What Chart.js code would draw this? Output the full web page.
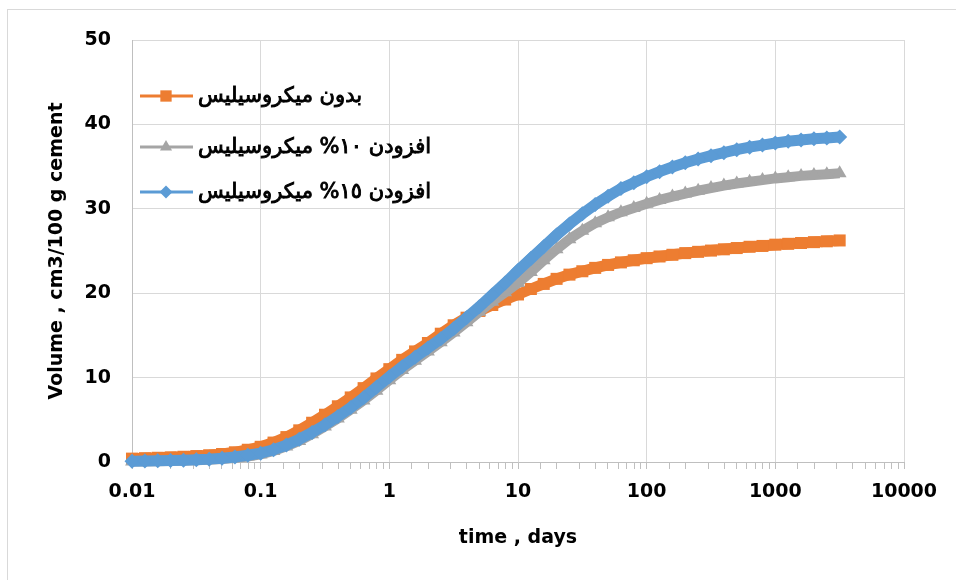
<!DOCTYPE html>
<html>
<head>
<meta charset="utf-8">
<script src="https://cdn.jsdelivr.net/npm/chart.js@4"></script>
<style>
  html, body { margin: 0; padding: 0; background: #fff; }
  #wrap { position: relative; width: 956px; height: 580px; }
  .legend-text {
    position: absolute;
    left: 198px;
    width: max-content;
    direction: rtl;
    font-family: 'DejaVu Sans', sans-serif;
    font-weight: normal;
    font-size: 21px;
    line-height: 24px;
    color: #000;
    -webkit-text-stroke: 0.9px #000;
    white-space: nowrap;
  }
</style>
</head>
<body>
<div id="wrap">
  <canvas id="volumeChart" width="956" height="580"></canvas>
</div>
<script>
// time axis (days), one reading every 0.1 decade
var days = [0.01, 0.01259, 0.01585, 0.01995, 0.02512, 0.03162, 0.03981, 0.05012, 0.0631, 0.07943,
  0.1, 0.1259, 0.1585, 0.1995, 0.2512, 0.3162, 0.3981, 0.5012, 0.631, 0.7943,
  1, 1.259, 1.585, 1.995, 2.512, 3.162, 3.981, 5.012, 6.31, 7.943,
  10, 12.59, 15.85, 19.95, 25.12, 31.62, 39.81, 50.12, 63.1, 79.43,
  100, 125.9, 158.5, 199.5, 251.2, 316.2, 398.1, 501.2, 631, 794.3,
  1000, 1259, 1585, 1995, 2512, 3162];

var noSilica = [0.40, 0.45, 0.50, 0.55, 0.62, 0.70, 0.80, 0.95, 1.15, 1.45,
  1.80, 2.30, 2.95, 3.75, 4.65, 5.60, 6.60, 7.65, 8.75, 9.90,
  11.0, 12.1, 13.1, 14.1, 15.2, 16.2, 17.1, 17.9, 18.6, 19.25,
  19.85, 20.5, 21.1, 21.7, 22.2, 22.6, 23.0, 23.35, 23.65, 23.9,
  24.15, 24.35, 24.55, 24.75, 24.9, 25.05, 25.2, 25.35, 25.5, 25.6,
  25.75, 25.85, 25.95, 26.05, 26.15, 26.25];

var silica10 = [0.05, 0.07, 0.09, 0.12, 0.15, 0.20, 0.26, 0.35, 0.48, 0.66,
  0.90, 1.30, 1.85, 2.50, 3.30, 4.20, 5.15, 6.20, 7.30, 8.45,
  9.70, 10.9, 12.0, 13.1, 14.2, 15.35, 16.55, 17.8, 19.0, 20.1,
  21.2, 22.5, 23.9, 25.2, 26.4, 27.4, 28.3, 29.0, 29.6, 30.1,
  30.6, 31.05, 31.45, 31.8, 32.15, 32.45, 32.75, 33.0, 33.2, 33.4,
  33.6, 33.75, 33.9, 34.0, 34.1, 34.2];

var silica15 = [0.10, 0.12, 0.15, 0.18, 0.22, 0.27, 0.34, 0.45, 0.60, 0.80,
  1.05, 1.45, 2.00, 2.70, 3.50, 4.40, 5.40, 6.45, 7.60, 8.85,
  10.1, 11.3, 12.4, 13.5, 14.6, 15.8, 17.1, 18.4, 19.8, 21.2,
  22.7, 24.1, 25.5, 26.9, 28.2, 29.4, 30.5, 31.5, 32.4, 33.1,
  33.8, 34.4, 34.95, 35.45, 35.9, 36.3, 36.65, 37.0, 37.3, 37.55,
  37.8, 38.0, 38.15, 38.3, 38.4, 38.5];

var seriesNames = ["بدون میکروسیلیس", "افزودن ١٠% میکروسیلیس", "افزودن ١٥% میکروسیلیس"];
var xTickLabels = ["0.01", "0.1", "1", "10", "100", "1000", "10000"];

var boldFont = "'DejaVu Sans', sans-serif";
var legendRows = [96, 147, 192];

function toPoints(values) {
  return values.map((v, i) => ({ x: days[i], y: v }));
}

function isDecade(v) {
  var e = Math.log10(v);
  return Math.abs(e - Math.round(e)) < 1e-6;
}

function drawMarker(ctx, style, x, y, r) {
  ctx.beginPath();
  if (style === "rect") {
    var s = r * Math.SQRT1_2;
    ctx.rect(x - s, y - s, 2 * s, 2 * s);
  } else if (style === "triangle") {
    ctx.moveTo(x, y - r);
    ctx.lineTo(x + r * 0.866, y + r * 0.5);
    ctx.lineTo(x - r * 0.866, y + r * 0.5);
    ctx.closePath();
  } else {
    ctx.moveTo(x, y - r);
    ctx.lineTo(x + r, y);
    ctx.lineTo(x, y + r);
    ctx.lineTo(x - r, y);
    ctx.closePath();
  }
  ctx.fill();
}

var frame = {
  id: "frame",
  beforeDraw(chart) {
    var ctx = chart.ctx;
    ctx.save();
    ctx.fillStyle = "#fff";
    ctx.fillRect(0, 0, chart.width, chart.height);
    ctx.strokeStyle = "#d9d9d9";
    ctx.lineWidth = 1;
    ctx.strokeRect(7.5, 9.5, 960, 600);
    ctx.restore();
  },
};

// legend symbols (line + marker) drawn on the canvas, labels as html text
var lineLegend = {
  id: "lineLegend",
  afterDatasetsDraw(chart) {
    var ctx = chart.ctx;
    chart.data.datasets.forEach((ds, i) => {
      var y = legendRows[i];
      ctx.save();
      ctx.strokeStyle = ds.borderColor;
      ctx.fillStyle = ds.borderColor;
      ctx.lineWidth = 3;
      ctx.beginPath();
      ctx.moveTo(140, y);
      ctx.lineTo(193, y);
      ctx.stroke();
      drawMarker(ctx, ds.pointStyle, 166, y, ds.legendRadius);
      ctx.restore();
    });
  },
};

var ctx = document.getElementById("volumeChart").getContext("2d");

var volumeChart = new Chart(ctx, {
  type: "line",
  data: {
    datasets: [
      {
        label: seriesNames[0],
        data: toPoints(noSilica),
        borderColor: "#ed7d31",
        backgroundColor: "#ed7d31",
        borderWidth: 11,
        pointStyle: "rect",
        pointRadius: 8.5,
        legendRadius: 8,
        pointBorderWidth: 0,
        order: 3,
      },
      {
        label: seriesNames[1],
        data: toPoints(silica10),
        borderColor: "#a5a5a5",
        backgroundColor: "#a5a5a5",
        borderWidth: 10,
        pointStyle: "triangle",
        pointRadius: 8,
        legendRadius: 7,
        pointBorderWidth: 0,
        order: 2,
      },
      {
        label: seriesNames[2],
        data: toPoints(silica15),
        borderColor: "#5b9bd5",
        backgroundColor: "#5b9bd5",
        borderWidth: 11,
        pointStyle: "rectRot",
        pointRadius: 7.5,
        legendRadius: 6.5,
        pointBorderWidth: 0,
        order: 1,
      },
    ],
  },
  options: {
    responsive: false,
    animation: false,
    clip: false,
    layout: {
      padding: { left: 8, top: 40, right: 52, bottom: 0 },
    },
    elements: {
      line: { tension: 0 },
    },
    plugins: {
      legend: { display: false },
      tooltip: { enabled: false },
    },
    scales: {
      x: {
        type: "logarithmic",
        min: 0.01,
        max: 10000,
        afterFit: (scale) => {
          scale.height = 118;
        },
        border: { color: "#bfbfbf" },
        grid: {
          color: (c) => (c.tick && isDecade(c.tick.value) ? "#d9d9d9" : "rgba(0,0,0,0)"),
          tickColor: "#bfbfbf",
          tickLength: 7,
        },
        ticks: {
          autoSkip: false,
          maxRotation: 0,
          padding: 12,
          color: "#000",
          font: { family: boldFont, size: 19, weight: "bold" },
          callback: (value) => (isDecade(value) ? xTickLabels[Math.round(Math.log10(value)) + 2] : ""),
        },
        title: {
          display: true,
          text: "time , days",
          color: "#000",
          font: { family: boldFont, size: 19, weight: "bold" },
          padding: { top: 0, bottom: 31 },
        },
      },
      y: {
        min: 0,
        max: 50,
        afterFit: (scale) => {
          scale.width = 124;
        },
        border: { color: "#bfbfbf" },
        grid: {
          color: "#d9d9d9",
          drawTicks: false,
        },
        ticks: {
          stepSize: 10,
          padding: 21,
          color: "#000",
          font: { family: boldFont, size: 19, weight: "bold" },
        },
        title: {
          display: true,
          text: "Volume , cm3/100 g cement",
          color: "#000",
          font: { family: boldFont, size: 19, weight: "bold" },
          padding: { top: 38, bottom: 0 },
        },
      },
    },
  },
  plugins: [frame, lineLegend],
});

var wrap = document.getElementById("wrap");
seriesNames.forEach((name, i) => {
  var el = document.createElement("div");
  el.className = "legend-text";
  el.setAttribute("dir", "rtl");
  el.style.top = legendRows[i] - 13 + "px";
  el.textContent = name;
  wrap.appendChild(el);
});
</script>
</body>
</html>
